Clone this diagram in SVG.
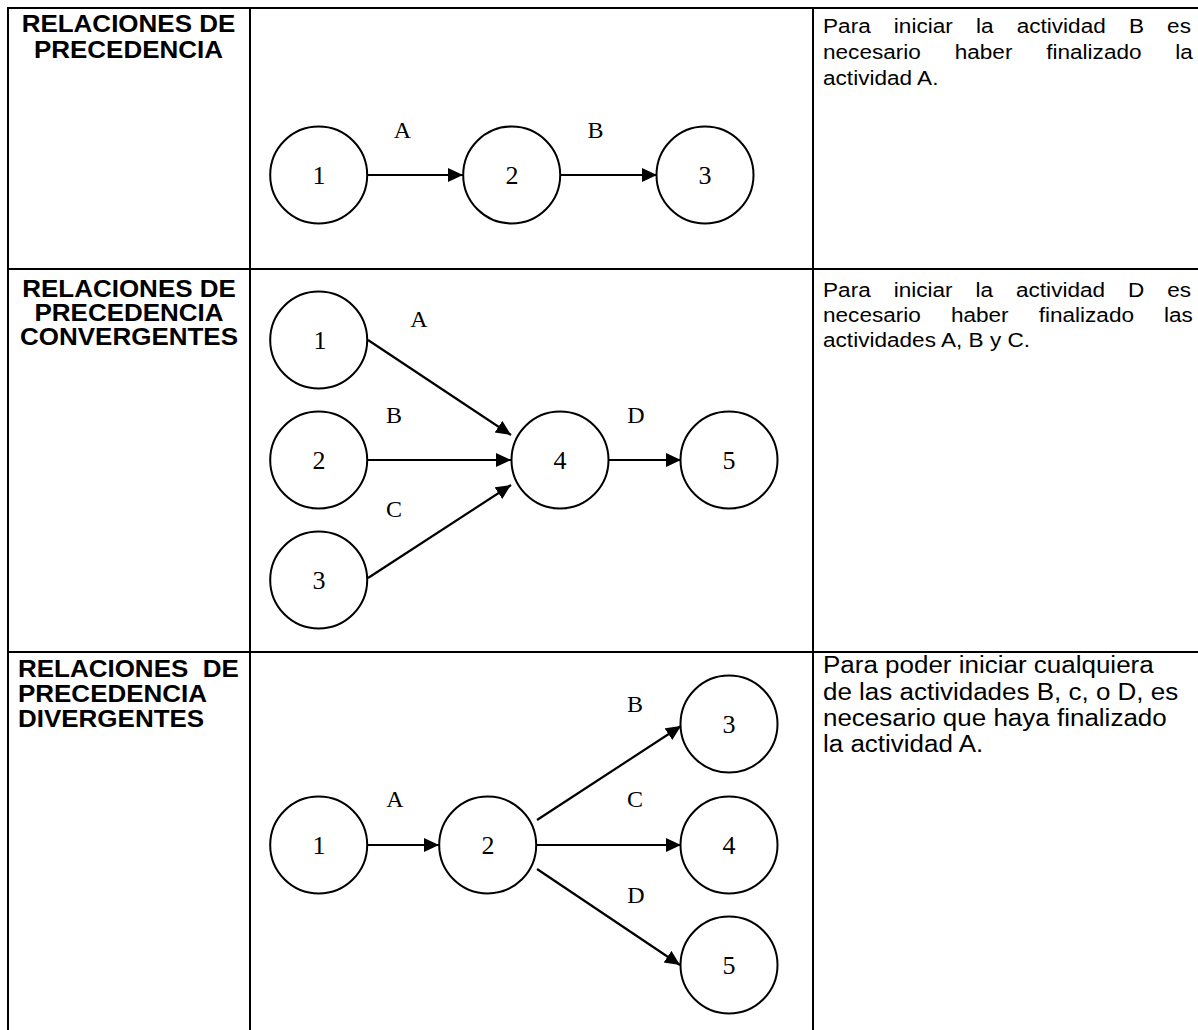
<svg xmlns="http://www.w3.org/2000/svg" width="1198" height="1030" viewBox="0 0 1198 1030">
<style>
.grid{stroke:#000;stroke-width:2;fill:none}
.node circle{fill:#fff;stroke:#000;stroke-width:2}
.num{font-family:"Liberation Serif","Times New Roman",serif;font-size:26px;fill:#000;text-anchor:middle}
.lbl{font-family:"Liberation Serif","Times New Roman",serif;font-size:24px;fill:#000;text-anchor:middle}
.hd{font-family:"Liberation Sans",Arial,sans-serif;font-weight:bold;font-size:23px;fill:#000}
.hc{text-anchor:middle}
.tx{font-family:"Liberation Sans",Arial,sans-serif;font-size:21px;fill:#000}
.tx3{font-family:"Liberation Sans",Arial,sans-serif;font-size:23px;fill:#000}
.edge{stroke:#000;stroke-width:2.2;fill:none;marker-end:url(#arr)}
</style>
<defs>
<marker id="arr" markerUnits="userSpaceOnUse" markerWidth="16" markerHeight="16" refX="15" refY="7" orient="auto">
<path d="M0,0 L15,7 L0,14 Z" fill="#000"/>
</marker>
</defs>
<rect width="1198" height="1030" fill="#fff"/>
<g id="table" class="grid">
<line x1="7" y1="8" x2="1198" y2="8"/>
<line x1="7" y1="269" x2="1198" y2="269"/>
<line x1="7" y1="652" x2="1198" y2="652"/>
<line x1="8" y1="7" x2="8" y2="1030"/>
<line x1="250" y1="7" x2="250" y2="1030"/>
<line x1="813" y1="7" x2="813" y2="1030"/>
</g>
<g id="headers">
<text class="hd hc" transform="scale(1.13,1)" x="113.7" y="32">RELACIONES DE</text>
<text class="hd hc" transform="scale(1.13,1)" x="113.7" y="58">PRECEDENCIA</text>
<text class="hd hc" transform="scale(1.13,1)" x="114.2" y="297">RELACIONES DE</text>
<text class="hd hc" transform="scale(1.13,1)" x="114.2" y="321">PRECEDENCIA</text>
<text class="hd hc" transform="scale(1.13,1)" x="114.2" y="345">CONVERGENTES</text>
<text class="hd" transform="scale(1.13,1)" x="15.9" y="677" word-spacing="6.5">RELACIONES DE</text>
<text class="hd" transform="scale(1.13,1)" x="15.9" y="702">PRECEDENCIA</text>
<text class="hd" transform="scale(1.13,1)" x="15.9" y="727">DIVERGENTES</text>
</g>
<g id="descriptions">
<text class="tx" transform="scale(1.075,1)" x="765.6" y="33" word-spacing="15.7">Para iniciar la actividad B es</text>
<text class="tx" transform="scale(1.075,1)" x="765.6" y="59" word-spacing="25.6">necesario haber finalizado la</text>
<text class="tx" transform="scale(1.075,1)" x="765.6" y="85">actividad A.</text>
<text class="tx" transform="scale(1.075,1)" x="765.6" y="297" word-spacing="15.5">Para iniciar la actividad D es</text>
<text class="tx" transform="scale(1.075,1)" x="765.6" y="322" word-spacing="22.1">necesario haber finalizado las</text>
<text class="tx" transform="scale(1.075,1)" x="765.6" y="347">actividades A, B y C.</text>
<text class="tx3" transform="scale(1.13,1)" x="728.3" y="673">Para poder iniciar cualquiera</text>
<text class="tx3" transform="scale(1.13,1)" x="728.3" y="700">de las actividades B, c, o D, es</text>
<text class="tx3" transform="scale(1.13,1)" x="728.3" y="726">necesario que haya finalizado</text>
<text class="tx3" transform="scale(1.13,1)" x="728.3" y="752">la actividad A.</text>
</g>
<g id="connectors">
<line class="edge" x1="367" y1="175" x2="463" y2="175"/>
<line class="edge" x1="560" y1="175" x2="657" y2="175"/>
<line class="edge" x1="368" y1="340" x2="511" y2="435"/>
<line class="edge" x1="368" y1="460" x2="511" y2="460"/>
<line class="edge" x1="368" y1="578" x2="511" y2="485"/>
<line class="edge" x1="608" y1="460" x2="681" y2="460"/>
<line class="edge" x1="367" y1="845" x2="439" y2="845"/>
<line class="edge" x1="537" y1="820" x2="681" y2="726"/>
<line class="edge" x1="536" y1="845" x2="681" y2="845"/>
<line class="edge" x1="537" y1="869" x2="680" y2="965"/>
</g>
<g id="edge-labels">
<text class="lbl" x="402.5" y="138">A</text>
<text class="lbl" x="595.5" y="138">B</text>
<text class="lbl" x="419" y="327">A</text>
<text class="lbl" x="394" y="423">B</text>
<text class="lbl" x="394" y="517">C</text>
<text class="lbl" x="636" y="423">D</text>
<text class="lbl" x="395" y="807">A</text>
<text class="lbl" x="635" y="712">B</text>
<text class="lbl" x="635" y="807">C</text>
<text class="lbl" x="636" y="903">D</text>
</g>
<g id="r1n1" class="node"><circle cx="318.7" cy="175" r="48.5"/><text class="num" x="319" y="184">1</text></g>
<g id="r1n2" class="node"><circle cx="511.7" cy="175" r="48.5"/><text class="num" x="512" y="184">2</text></g>
<g id="r1n3" class="node"><circle cx="705" cy="175" r="48.5"/><text class="num" x="705" y="184">3</text></g>
<g id="r2n1" class="node"><circle cx="318.7" cy="340" r="48.5"/><text class="num" x="320" y="349">1</text></g>
<g id="r2n2" class="node"><circle cx="318.7" cy="460" r="48.5"/><text class="num" x="319" y="469">2</text></g>
<g id="r2n3" class="node"><circle cx="318.7" cy="580" r="48.5"/><text class="num" x="319" y="589">3</text></g>
<g id="r2n4" class="node"><circle cx="560" cy="460" r="48.5"/><text class="num" x="560" y="469">4</text></g>
<g id="r2n5" class="node"><circle cx="729" cy="460" r="48.5"/><text class="num" x="729" y="469">5</text></g>
<g id="r3n1" class="node"><circle cx="318.7" cy="845" r="48.5"/><text class="num" x="319" y="854">1</text></g>
<g id="r3n2" class="node"><circle cx="487.7" cy="845" r="48.5"/><text class="num" x="488" y="854">2</text></g>
<g id="r3n3" class="node"><circle cx="729" cy="724" r="48.5"/><text class="num" x="729" y="733">3</text></g>
<g id="r3n4" class="node"><circle cx="729" cy="845" r="48.5"/><text class="num" x="729" y="854">4</text></g>
<g id="r3n5" class="node"><circle cx="729" cy="965" r="48.5"/><text class="num" x="729" y="974">5</text></g>
</svg>
